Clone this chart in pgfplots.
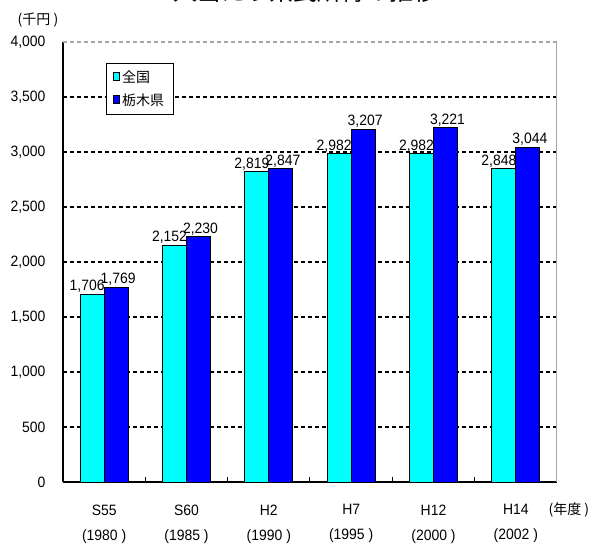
\documentclass[border=0pt]{standalone}
\usepackage{fontspec}
\setmainfont[FakeStretch=0.93]{Liberation Sans}
\newfontfamily\jp{Noto Sans CJK JP}
\usepackage{pgfplots}
\pgfplotsset{compat=1.18}

\definecolor{cyanbar}{RGB}{0,255,255}
\definecolor{bluebar}{RGB}{0,0,255}

\begin{document}
\begin{tikzpicture}[x=1pt,y=1pt]
\useasboundingbox (-63,-61) rectangle (533,482);
\begin{axis}[
    at={(0,0)}, anchor=south west,
    scale only axis,
    width=494pt, height=440pt,
    xmin=-0.5, xmax=5.5,
    ymin=0, ymax=4000,
    ybar=0pt, bar width=24pt,
    axis x line*=bottom, axis y line*=left,
    axis line style={black, line width=1.4pt},
    /pgf/number format/assume math mode=true,
    /pgf/number format/1000 sep={,},
    scaled y ticks=false,
    xtick={0,...,5},
    xticklabels={{S55\\(1980 )},{S60\\(1985 )},{H2\\(1990 )},{H7\\(1995 )},{H12\\(2000 )},{H14\\(2002 )}},
    xticklabel style={align=center, font=\fontsize{15}{25}\selectfont, yshift=-19pt},
    major x tick style={draw=none},
    minor xtick={0.5,1.5,2.5,3.5,4.5},
    minor x tick style={black, line width=1pt},
    minor tick length=5pt,
    tick align=inside,
    ytick={0,500,...,3500},
    extra y ticks={4000},
    extra y tick style={grid=none},
    y tick style={draw=none},
    yticklabel style={font=\fontsize{15}{17}\selectfont, xshift=-14pt},
    ymajorgrids,
    grid style={black, line width=1.2pt, dash pattern=on 4pt off 3pt},
    nodes near coords,
    every node near coord/.append style={font=\fontsize{15}{17}\selectfont, inner sep=0pt, anchor=south, yshift=1pt},
    legend style={at={(0.087,0.952)}, anchor=north west, draw=black, line width=1pt,
        font=\jp\fontsize{14}{16}\selectfont, row sep=6pt, inner xsep=7pt, inner ysep=5pt},
    legend cell align=left,
]
\addplot[fill=cyanbar, draw=black, line width=1pt,
    every node near coord/.append style={xshift=-5pt},
    legend image code/.code={\draw[fill=cyanbar, draw=black, line width=0.6pt] (0pt,-3pt) rectangle (6pt,5pt);}]
    coordinates {(0,1706) (1,2152) (2,2819) (3,2982) (4,2982) (5,2848)};
\addplot[fill=bluebar, draw=black, line width=1pt,
    every node near coord/.append style={xshift=2pt},
    legend image code/.code={\draw[fill=bluebar, draw=black, line width=0.6pt] (0pt,-3pt) rectangle (6pt,5pt);}]
    coordinates {(0,1769) (1,2230) (2,2847) (3,3207) (4,3221) (5,3044)};
\legend{全国, 栃木県}
\draw[gray!70, line width=1.2pt] (rel axis cs:1,0) -- (rel axis cs:1,1);
\draw[gray!70, line width=1.2pt, dash pattern=on 4pt off 3pt] (rel axis cs:0,1) -- (rel axis cs:1,1);
\end{axis}
\node[font=\jp\fontsize{24}{26}\selectfont, anchor=base] at (230,481) {一人当たり県民所得の推移};
\node[font=\jp\fontsize{14}{16}\selectfont] at (-25,462) {(千円 )};
\node[font=\jp\fontsize{14}{16}\selectfont, anchor=west] at (482,-28) {(年度 )};
\end{tikzpicture}
\end{document}
